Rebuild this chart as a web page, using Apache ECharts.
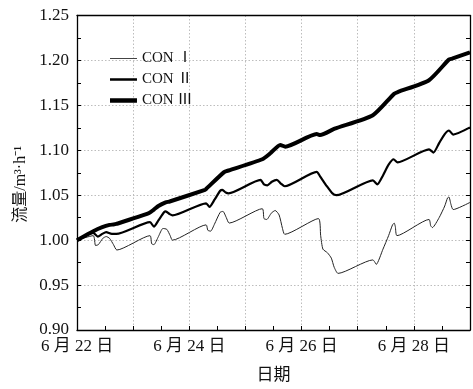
<!DOCTYPE html>
<html>
<head>
<meta charset="utf-8">
<script src="https://cdn.jsdelivr.net/npm/echarts@6/dist/echarts.min.js"></script>
<style>html,body{margin:0;padding:0;background:#fff;}#c{width:473px;height:389px;}</style>
</head>
<body>
<div id="c"></div>
<script>
// ---- data ----
const seriesNames = ['CON Ⅰ', 'CON Ⅱ', 'CON Ⅲ'];
const xTickDays = [22, 24, 26, 28];
const yTicks = [0.90, 0.95, 1.00, 1.05, 1.10, 1.15, 1.20, 1.25];

const days1 = [22.00,22.29,22.33,22.38,22.46,22.52,22.58,22.65,22.71,23.30,23.33,23.37,23.45,23.53,23.60,23.66,23.70,24.30,24.33,24.38,24.45,24.55,24.60,24.66,24.71,25.30,25.33,25.38,25.46,25.53,25.60,25.66,25.70,26.30,26.34,26.38,26.46,26.53,26.58,26.65,27.27,27.30,27.33,27.45,27.55,27.62,27.65,27.67,27.70,28.27,28.30,28.33,28.45,28.55,28.60,28.625,28.66,28.70,29.00];
const vals1 = [1.000,1.005,0.994,0.995,1.002,1.004,1.002,0.995,0.989,1.005,0.996,0.995,1.004,1.013,1.012,1.005,1.000,1.017,1.011,1.010,1.018,1.031,1.032,1.025,1.019,1.035,1.024,1.023,1.030,1.033,1.028,1.013,1.0065,1.024,1.005,0.990,0.986,0.980,0.970,0.963,0.978,0.976,0.973,0.990,1.005,1.017,1.019,1.015,1.005,1.023,1.016,1.014,1.025,1.038,1.047,1.048,1.040,1.034,1.042];

const days2 = [22.00,22.29,22.37,22.45,22.52,22.62,22.70,23.30,23.37,23.45,23.55,23.58,23.65,23.70,24.30,24.36,24.45,24.55,24.59,24.65,24.70,25.27,25.33,25.39,25.47,25.56,25.63,25.70,26.27,26.33,26.45,26.55,26.62,27.27,27.35,27.45,27.55,27.64,27.71,28.27,28.35,28.45,28.55,28.625,28.70,29.00];
const vals2 = [1.000,1.008,1.004,1.007,1.009,1.007,1.007,1.020,1.015,1.022,1.031,1.032,1.029,1.0275,1.041,1.037,1.045,1.055,1.056,1.053,1.052,1.067,1.062,1.061,1.065,1.067,1.063,1.060,1.076,1.071,1.060,1.052,1.050,1.0666,1.062,1.072,1.084,1.090,1.0866,1.101,1.0975,1.108,1.118,1.122,1.1175,1.1255];

const days3 = [22.00,22.29,22.45,22.58,22.65,22.70,23.28,23.37,23.45,23.58,23.65,24.28,24.30,24.62,24.70,25.30,25.45,25.62,25.71,26.27,26.33,26.59,27.27,27.65,27.72,28.27,28.625,28.68,29.00];
const vals3 = [1.000,1.010,1.0145,1.017,1.0174,1.018,1.030,1.034,1.038,1.042,1.043,1.056,1.057,1.0757,1.0775,1.090,1.097,1.106,1.104,1.118,1.117,1.124,1.139,1.163,1.165,1.178,1.201,1.202,1.209];

// ---- chart ----
const FONT = "'Liberation Serif', 'Noto Sans CJK SC', serif";
const pair = (d, v) => d.map((x, i) => [x, v[i]]);
const chart = echarts.init(document.getElementById('c'), null, {renderer: 'canvas'});
const widths = [1, 2.2, 4];
// legend icons: horizontal bars of the series' thickness, centred in a 27x14 box
const legendIcon = w => 'path://M0,' + (7 - w / 2) + 'h27v' + w + 'h-27z M0,0h0.01v0.01h-0.01z M0,14h0.01v0.01h-0.01z';
const iconW = [1, 2.5, 4.5];
const gridLine = {show: true, lineStyle: {color: '#bdbdbd', type: [1.5, 2], width: 1}};
chart.setOption({
  animation: false,
  textStyle: {fontFamily: FONT},
  grid: {left: 77, right: 1, top: 15.5, bottom: 53.3, containLabel: false},
  legend: {
    orient: 'vertical', left: 105, top: 46, itemWidth: 27, itemHeight: 14, itemGap: 6,
    textStyle: {fontFamily: FONT, fontSize: 15, color: '#111'},
    data: seriesNames.map((n, i) => ({name: n, icon: legendIcon(iconW[i]), itemStyle: {color: i === 0 ? '#444' : '#000'}}))
  },
  xAxis: [{
    type: 'value', min: 22, max: 29, interval: 1,
    axisLine: {show: true, lineStyle: {color: '#000', width: 1.3}},
    axisTick: {show: true, inside: true, length: 4, lineStyle: {color: '#000'}},
    minorTick: {show: true, splitNumber: 2, length: 4, lineStyle: {color: '#000'}},
    splitLine: gridLine,
    axisLabel: {
      fontFamily: FONT, fontSize: 17, color: '#111', margin: 8, showMaxLabel: true,
      formatter: v => xTickDays.includes(v) ? ('6 月 ' + v + ' 日') : ''
    },
    name: '日期', nameLocation: 'middle', nameGap: 37,
    nameTextStyle: {fontFamily: FONT, fontSize: 17, color: '#111'}
  }, {
    type: 'value', min: 22, max: 29, interval: 1, position: 'top',
    axisLine: {show: true, onZero: false, lineStyle: {color: '#000', width: 1.3}},
    axisTick: {show: false}, axisLabel: {show: false}, splitLine: {show: false}
  }],
  yAxis: [{
    type: 'value', min: 0.9, max: 1.25, interval: 0.05,
    axisLine: {show: true, lineStyle: {color: '#000', width: 1.3}},
    axisTick: {show: true, inside: true, length: 4, lineStyle: {color: '#000'}},
    minorTick: {show: true, splitNumber: 2, length: 4, lineStyle: {color: '#000'}},
    splitLine: gridLine,
    axisLabel: {fontFamily: FONT, fontSize: 17, color: '#111', margin: 8,
      formatter: v => {
        const t = yTicks.find(y => Math.abs(y - v) < 1e-6);
        return t !== undefined ? t.toFixed(2) : '';
      }}
  }, {
    type: 'value', min: 0.9, max: 1.25, interval: 0.05, position: 'right',
    axisLine: {show: true, onZero: false, lineStyle: {color: '#000', width: 1.3}},
    axisTick: {show: true, inside: true, length: 4, lineStyle: {color: '#000'}},
    minorTick: {show: true, splitNumber: 2, length: 4, lineStyle: {color: '#000'}},
    axisLabel: {show: false}, splitLine: {show: false}
  }],
  graphic: [{
    type: 'text', left: 13, top: 146,
    rotation: Math.PI / 2,
    style: {text: '流量/m³·h⁻¹', fontFamily: FONT, fontSize: 16, fill: '#111'}
  }],
  series: [
    {name: seriesNames[0], data: pair(days1, vals1)},
    {name: seriesNames[1], data: pair(days2, vals2)},
    {name: seriesNames[2], data: pair(days3, vals3)}
  ].map((s, i) => Object.assign(s, {
    type: 'line', showSymbol: false, symbol: 'none', smooth: 0.2,
    xAxisIndex: 0, yAxisIndex: 0,
    lineStyle: {color: i === 0 ? '#222' : '#000', width: widths[i]},
    itemStyle: {color: '#000'}
  }))
});
</script>
</body>
</html>
